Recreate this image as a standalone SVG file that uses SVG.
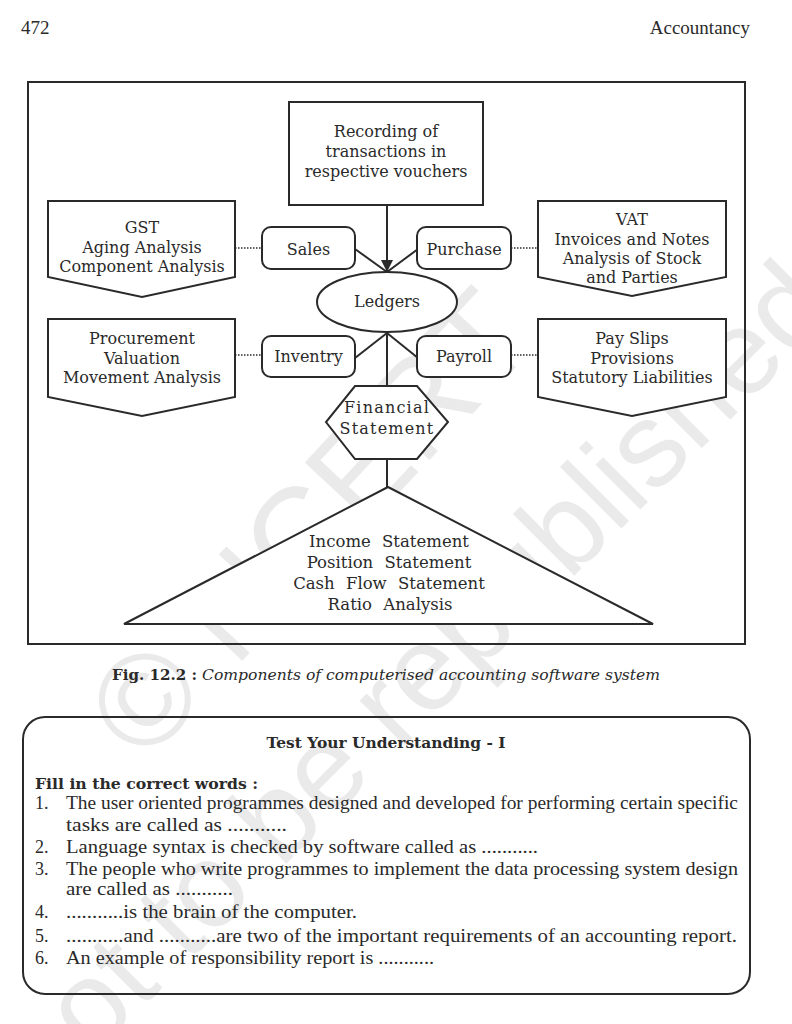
<svg xmlns="http://www.w3.org/2000/svg" width="792" height="1024" viewBox="0 0 792 1024">
<defs>
<style>
.wm{font-family:"Liberation Sans",Arial,sans-serif;fill:#eaeaea}
.sh{fill:#fff;stroke:#2a2a2a;stroke-width:2}
.ln{stroke:#2a2a2a;stroke-width:2;fill:none}
.dot{stroke:#2a2a2a;stroke-width:1.5;stroke-dasharray:1.5 1.5;fill:none}
.t{font-family:"DejaVu Serif",serif;font-size:16px;fill:#2a2a2a;text-anchor:middle}
.hx{font-family:"DejaVu Serif",serif;font-size:16px;fill:#2a2a2a;text-anchor:middle;letter-spacing:1.2px}
.tr{font-family:"DejaVu Serif",serif;font-size:16.5px;fill:#2a2a2a;text-anchor:middle;word-spacing:6px}
.hd{font-family:"Liberation Serif","Times New Roman",serif;font-size:19px;fill:#2a2a2a}
.it{font-family:"Liberation Serif","Times New Roman",serif;font-size:18px;fill:#2a2a2a}
.bd{font-family:"DejaVu Serif",serif;font-size:15px;font-weight:bold;fill:#2a2a2a}
.ital{font-family:"DejaVu Serif",serif;font-size:15px;font-style:italic;fill:#2a2a2a}
</style>
<marker id="ah" viewBox="0 0 12 12" refX="11" refY="6" markerWidth="12" markerHeight="12" markerUnits="userSpaceOnUse" orient="auto">
<path d="M0,0 L12,6 L0,12 Z" fill="#2a2a2a"/>
</marker>
</defs>
<rect width="792" height="1024" fill="#fff"/>
<g id="watermark">
<text class="wm" font-size="130" transform="translate(145,765) rotate(-47)">© NCERT</text>
<text class="wm" font-size="120" transform="translate(45,1105) rotate(-45)">not to be republished</text>
</g>
<g id="header">
<text class="hd" x="21" y="34">472</text>
<text class="hd" x="750" y="34" text-anchor="end">Accountancy</text>
</g>
<g id="frame"><rect x="28" y="82" width="717" height="562" fill="none" stroke="#2a2a2a" stroke-width="2"/></g>
<g id="connectors">
<line class="ln" x1="387" y1="205" x2="387" y2="271" marker-end="url(#ah)"/>
<line class="ln" x1="355" y1="249" x2="387" y2="272"/>
<line class="ln" x1="418" y1="249" x2="387" y2="272"/>
<line class="ln" x1="355" y1="358" x2="387" y2="333"/>
<line class="ln" x1="418" y1="358" x2="387" y2="333"/>
<line class="ln" x1="387" y1="333" x2="387" y2="386"/>
<line class="ln" x1="387" y1="459" x2="387" y2="487"/>
<line class="dot" x1="235" y1="248" x2="262" y2="248"/>
<line class="dot" x1="511" y1="248" x2="538" y2="248"/>
<line class="dot" x1="235" y1="355" x2="262" y2="355"/>
<line class="dot" x1="511" y1="355" x2="538" y2="355"/>
</g>
<g id="recording">
<rect class="sh" x="289" y="102" width="194" height="103"/>
<text class="t" x="386" y="137">Recording of</text>
<text class="t" x="386" y="157">transactions in</text>
<text class="t" x="386" y="177">respective vouchers</text>
</g>
<g id="gst">
<polygon class="sh" points="48,201 235,201 235,277 142,297 48,277"/>
<text class="t" x="142" y="233">GST</text>
<text class="t" x="142" y="253">Aging Analysis</text>
<text class="t" x="142" y="272">Component Analysis</text>
</g>
<g id="vat">
<polygon class="sh" points="538,201 726,201 726,277 632,296 538,277"/>
<text class="t" x="632" y="225">VAT</text>
<text class="t" x="632" y="245">Invoices and Notes</text>
<text class="t" x="632" y="264">Analysis of Stock</text>
<text class="t" x="632" y="283">and Parties</text>
</g>
<g id="sales">
<rect class="sh" x="262" y="227" width="93" height="42" rx="9"/>
<text class="t" x="308.5" y="255">Sales</text>
</g>
<g id="purchase">
<rect class="sh" x="417" y="227" width="94" height="42" rx="9"/>
<text class="t" x="464" y="255">Purchase</text>
</g>
<g id="ledgers">
<ellipse class="sh" cx="387" cy="302" rx="70" ry="30"/>
<text class="t" x="387" y="307">Ledgers</text>
</g>
<g id="procurement">
<polygon class="sh" points="48,319 235,319 235,397 142,416 48,397"/>
<text class="t" x="142" y="344">Procurement</text>
<text class="t" x="142" y="364">Valuation</text>
<text class="t" x="142" y="383">Movement Analysis</text>
</g>
<g id="payslips">
<polygon class="sh" points="538,319 726,319 726,397 632,416 538,397"/>
<text class="t" x="632" y="344">Pay Slips</text>
<text class="t" x="632" y="364">Provisions</text>
<text class="t" x="632" y="383">Statutory Liabilities</text>
</g>
<g id="inventry">
<rect class="sh" x="262" y="336" width="93" height="41" rx="9"/>
<text class="t" x="308.5" y="362">Inventry</text>
</g>
<g id="payroll">
<rect class="sh" x="417" y="336" width="94" height="41" rx="9"/>
<text class="t" x="464" y="362">Payroll</text>
</g>
<g id="financial">
<polygon class="sh" points="355,386 417,386 448,422 417,459 355,459 326,422"/>
<text class="hx" x="387" y="413">Financial</text>
<text class="hx" x="387" y="434">Statement</text>
</g>
<g id="statements">
<polygon class="sh" points="388,487 124,624 653,624"/>
<text class="tr" x="389" y="547">Income Statement</text>
<text class="tr" x="389" y="568">Position Statement</text>
<text class="tr" x="389" y="589">Cash Flow Statement</text>
<text class="tr" x="390" y="610">Ratio Analysis</text>
</g>
<g id="caption">
<text class="bd" x="112" y="680" textLength="85" lengthAdjust="spacingAndGlyphs">Fig. 12.2 :</text>
<text class="ital" x="202" y="680" textLength="458" lengthAdjust="spacingAndGlyphs">Components of computerised accounting software system</text>
</g>
<g id="test">
<rect x="23" y="717" width="727" height="277" rx="22" fill="none" stroke="#2a2a2a" stroke-width="2"/>
<text class="bd" x="386" y="748" text-anchor="middle" textLength="239" lengthAdjust="spacingAndGlyphs">Test Your Understanding - I</text>
<text class="bd" x="35" y="789" textLength="223" lengthAdjust="spacingAndGlyphs">Fill in the correct words :</text>
<text class="it" x="35" y="809">1.</text>
<text class="it" x="66" y="809" textLength="672" lengthAdjust="spacingAndGlyphs">The user oriented programmes designed and developed for performing certain specific</text>
<text class="it" x="66" y="831" textLength="221" lengthAdjust="spacingAndGlyphs">tasks are called as ...........</text>
<text class="it" x="35" y="853">2.</text>
<text class="it" x="66" y="853" textLength="472" lengthAdjust="spacingAndGlyphs">Language syntax is checked by software called as ...........</text>
<text class="it" x="35" y="875">3.</text>
<text class="it" x="66" y="875" textLength="672" lengthAdjust="spacingAndGlyphs">The people who write programmes to implement the data processing system design</text>
<text class="it" x="66" y="895" textLength="167" lengthAdjust="spacingAndGlyphs">are called as ...........</text>
<text class="it" x="35" y="918">4.</text>
<text class="it" x="66" y="918" textLength="291" lengthAdjust="spacingAndGlyphs">...........is the brain of the computer.</text>
<text class="it" x="35" y="942">5.</text>
<text class="it" x="66" y="942" textLength="671" lengthAdjust="spacingAndGlyphs">...........and ...........are two of the important requirements of an accounting report.</text>
<text class="it" x="35" y="964">6.</text>
<text class="it" x="66" y="964" textLength="368" lengthAdjust="spacingAndGlyphs">An example of responsibility report is ...........</text>
</g>
</svg>
